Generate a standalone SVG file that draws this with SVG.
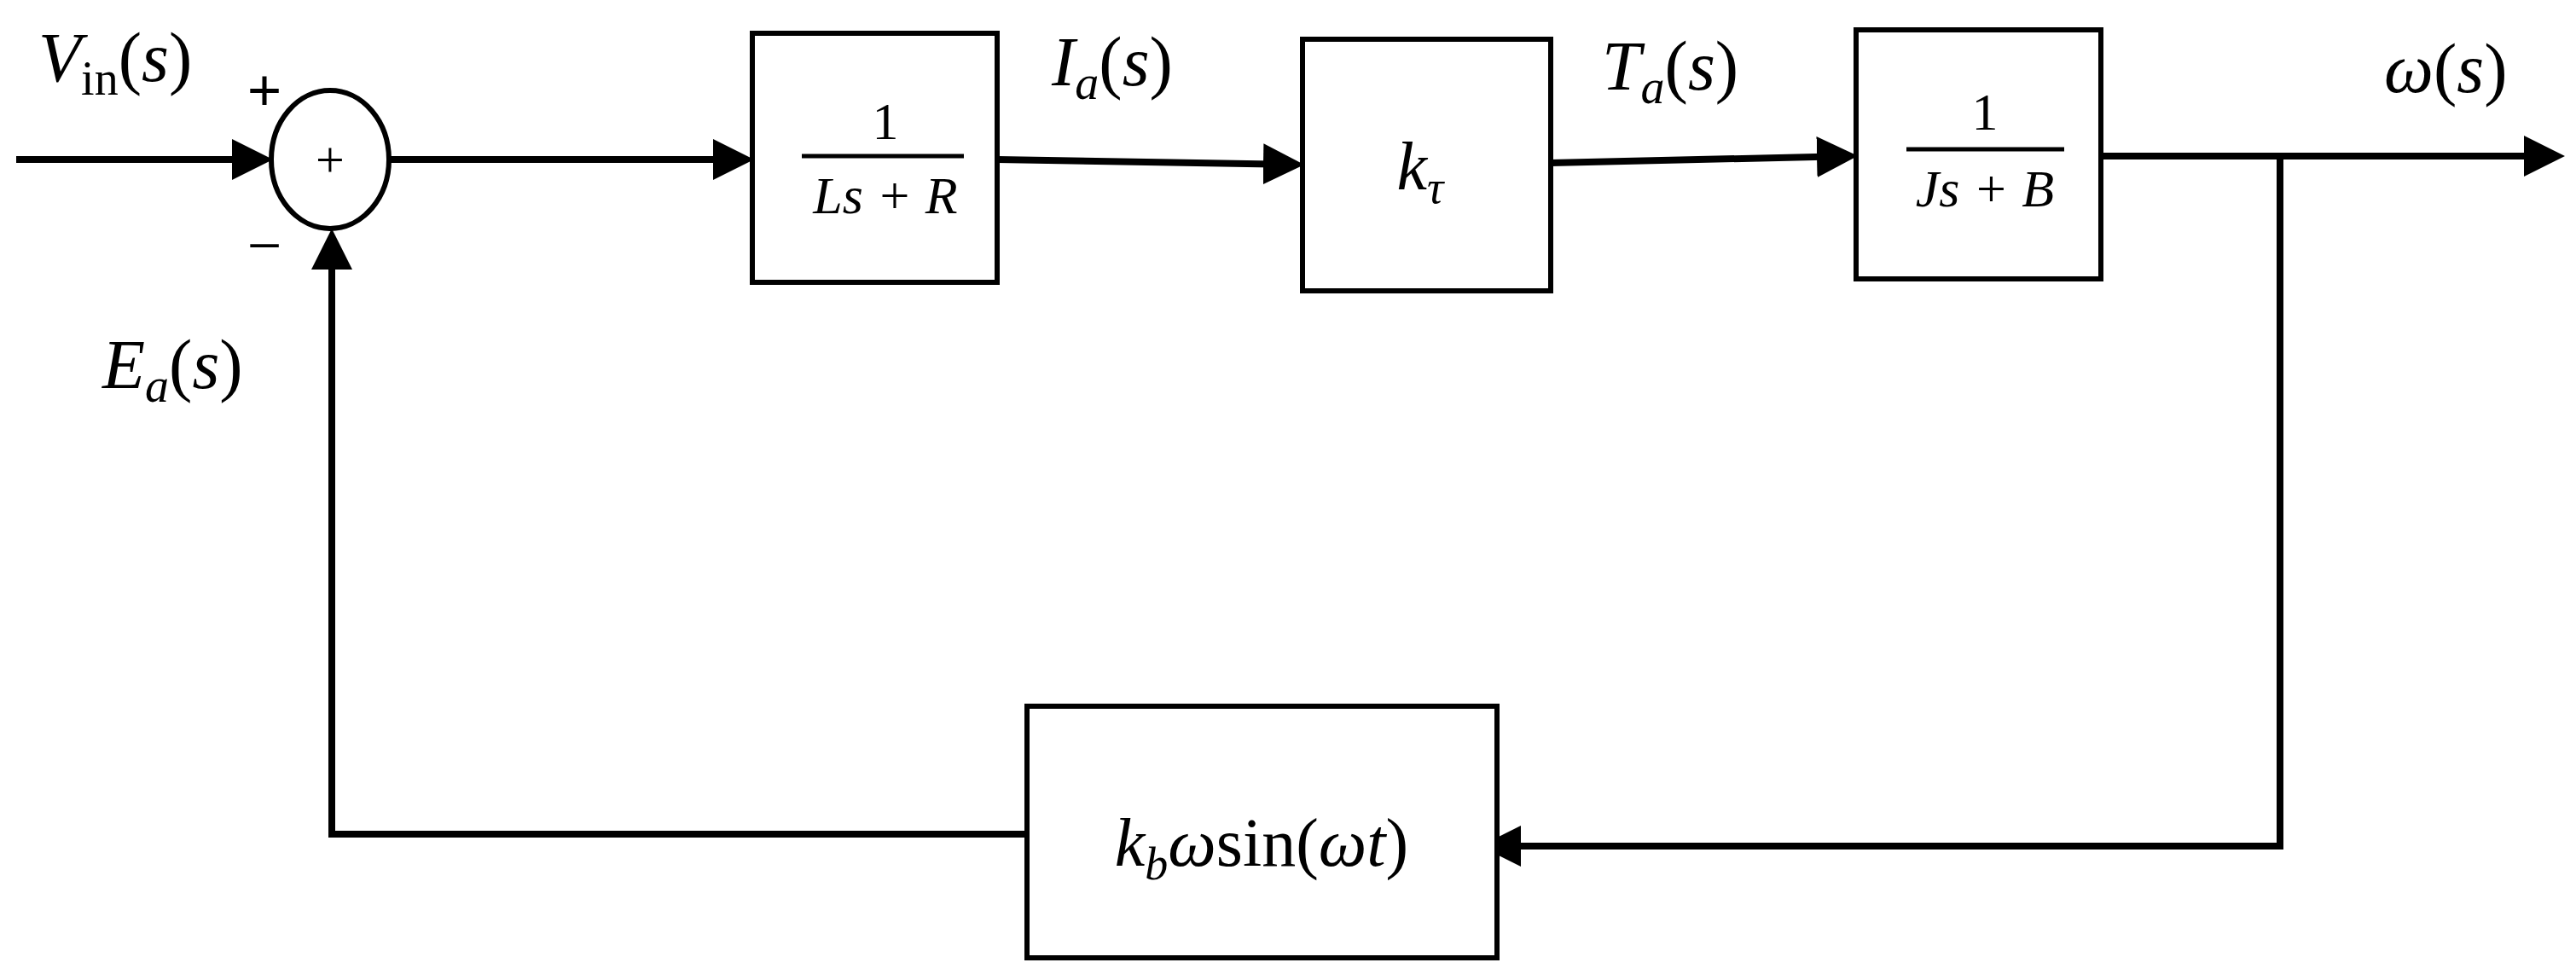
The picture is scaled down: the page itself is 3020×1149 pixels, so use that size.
<svg xmlns="http://www.w3.org/2000/svg" width="3020" height="1149" viewBox="0 0 3020 1149">
<style>
.b{fill:#fff;stroke:#000;stroke-width:6}
.w{fill:none;stroke:#000;stroke-width:8}
.t{font-family:"Liberation Serif",serif;font-style:italic;fill:#000}
.n{font-family:"Liberation Serif",serif;fill:#000}
</style>
<defs><marker id="a" markerWidth="6" markerHeight="6" refX="5" refY="3" orient="auto" markerUnits="strokeWidth"><path d="M0,0L6,3L0,6z" fill="#000"/></marker></defs>
<rect width="3020" height="1149" fill="#fff"/>
<g id="connectors">
<line class="w" x1="19" y1="187" x2="312" y2="187" marker-end="url(#a)"/>
<line class="w" x1="456" y1="187" x2="876" y2="187" marker-end="url(#a)"/>
<line class="w" x1="1169" y1="187" x2="1521" y2="193" marker-end="url(#a)"/>
<line class="w" x1="1818" y1="191" x2="2170" y2="183" marker-end="url(#a)"/>
<line class="w" x1="2463" y1="183" x2="2999" y2="183" marker-end="url(#a)"/>
<polyline class="w" points="2673,187 2673,992 1743,992" marker-end="url(#a)"/>
<polyline class="w" points="1204,978 389,978 389,276" marker-end="url(#a)"/>
</g>
<g id="sum">
<ellipse class="b" cx="387" cy="187" rx="69" ry="81"/>
<text class="n" x="387" y="207" font-size="60" text-anchor="middle">+</text>
<text class="n" x="310" y="130" font-size="72" font-weight="bold" text-anchor="middle">+</text>
<text class="n" x="310" y="312" font-size="72" text-anchor="middle">−</text>
</g>
<g id="b1">
<rect class="b" x="882" y="39" width="287" height="292"/>
<text class="n" x="1038" y="163" font-size="62" text-anchor="middle">1</text>
<line x1="940" y1="183" x2="1130" y2="183" stroke="#000" stroke-width="5"/>
<text class="t" x="1038" y="250" font-size="62" text-anchor="middle">Ls + R</text>
</g>
<g id="b2">
<rect class="b" x="1527" y="46" width="291" height="295"/>
<text class="t" x="1665" y="222" font-size="80" text-anchor="middle">k<tspan font-size="54" dy="16">τ</tspan></text>
</g>
<g id="b3">
<rect class="b" x="2176" y="35" width="287" height="292"/>
<text class="n" x="2327" y="152" font-size="62" text-anchor="middle">1</text>
<line x1="2235" y1="175" x2="2420" y2="175" stroke="#000" stroke-width="5"/>
<text class="t" x="2327" y="242" font-size="62" text-anchor="middle">Js + B</text>
</g>
<g id="b4">
<rect class="b" x="1204" y="828" width="551" height="295"/>
<text class="t" x="1479" y="1015" font-size="80" text-anchor="middle">k<tspan font-size="54" dy="16">b</tspan><tspan dy="-16">ω</tspan><tspan font-style="normal">sin(</tspan>ωt<tspan font-style="normal">)</tspan></text>
</g>
<g id="labels">
<text class="t" x="45" y="95" font-size="82">V<tspan font-style="normal" font-size="56" dy="16">in</tspan><tspan dy="-16" font-style="normal">(</tspan>s<tspan font-style="normal">)</tspan></text>
<text class="t" x="120" y="455" font-size="82">E<tspan font-size="56" dy="16">a</tspan><tspan dy="-16" font-style="normal">(</tspan>s<tspan font-style="normal">)</tspan></text>
<text class="t" x="1233" y="100" font-size="82">I<tspan font-size="56" dy="16">a</tspan><tspan dy="-16" font-style="normal">(</tspan>s<tspan font-style="normal">)</tspan></text>
<text class="t" x="1878" y="105" font-size="82">T<tspan font-size="56" dy="16">a</tspan><tspan dy="-16" font-style="normal">(</tspan>s<tspan font-style="normal">)</tspan></text>
<text class="t" x="2795" y="108" font-size="82">ω<tspan font-style="normal">(</tspan>s<tspan font-style="normal">)</tspan></text>
</g>
</svg>
